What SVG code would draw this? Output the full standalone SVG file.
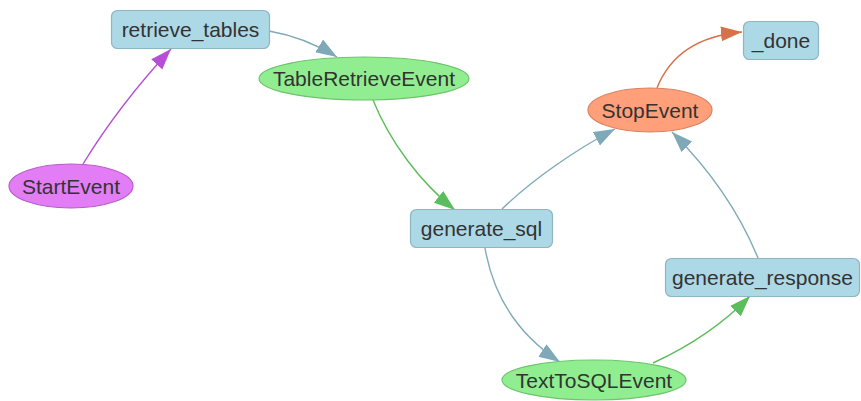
<svg xmlns="http://www.w3.org/2000/svg" width="861" height="401" viewBox="0 0 861 401">
  <style>
    .lbl { font-family: "Liberation Sans", Arial, sans-serif; font-size: 21px; fill: #333; text-anchor: middle; }
    .step { fill: #add8e6; stroke: #8db5c4; stroke-width: 1.2; }
    .evt { fill: #90ee90; stroke: #6cc46c; stroke-width: 1.2; }
    .start { fill: #e27df6; stroke: #b95ccc; stroke-width: 1.2; }
    .stop { fill: #ffa07a; stroke: #d98262; stroke-width: 1.2; }
    .edge { fill: none; stroke-width: 1.4; }
  </style>
  <defs>
    <marker id="ah-blue" markerUnits="userSpaceOnUse" markerWidth="24" markerHeight="18" refX="21" refY="7.5" orient="auto">
      <path d="M0,0 L21,7.5 L0,15 z" fill="#7fa9b9"/>
    </marker>
    <marker id="ah-green" markerUnits="userSpaceOnUse" markerWidth="24" markerHeight="18" refX="21" refY="7.5" orient="auto">
      <path d="M0,0 L21,7.5 L0,15 z" fill="#5cbd5c"/>
    </marker>
    <marker id="ah-magenta" markerUnits="userSpaceOnUse" markerWidth="24" markerHeight="18" refX="21" refY="7.5" orient="auto">
      <path d="M0,0 L21,7.5 L0,15 z" fill="#b64ed6"/>
    </marker>
    <marker id="ah-orange" markerUnits="userSpaceOnUse" markerWidth="24" markerHeight="18" refX="21" refY="7.5" orient="auto">
      <path d="M0,0 L21,7.5 L0,15 z" fill="#d6714a"/>
    </marker>
  </defs>

  <g id="edges">
    <path class="edge" stroke="#b64ed6" marker-end="url(#ah-magenta)" d="M83,164 C105,128 135,88 171,49"/>
    <path class="edge" stroke="#7fa9b9" marker-end="url(#ah-blue)" d="M269,31 C292,35 316,44 337,57"/>
    <path class="edge" stroke="#5cbd5c" marker-end="url(#ah-green)" d="M373,100 C390,142 420,182 455,210"/>
    <path class="edge" stroke="#7fa9b9" marker-end="url(#ah-blue)" d="M502,209 C532,180 575,150 615,129"/>
    <path class="edge" stroke="#7fa9b9" marker-end="url(#ah-blue)" d="M485,248 C494,300 520,336 560,362"/>
    <path class="edge" stroke="#5cbd5c" marker-end="url(#ah-green)" d="M653,363 C690,346 722,325 750,296"/>
    <path class="edge" stroke="#7fa9b9" marker-end="url(#ah-blue)" d="M758,258 C740,214 710,170 672,132"/>
    <path class="edge" stroke="#d6714a" marker-end="url(#ah-orange)" d="M657,88 C670,55 697,36 742,32"/>
  </g>

  <g id="retrieve_tables">
    <rect class="step" x="111.5" y="10.5" width="158" height="38" rx="6"/>
    <text class="lbl" x="190.5" y="36.5">retrieve_tables</text>
  </g>
  <g id="TableRetrieveEvent">
    <ellipse class="evt" cx="364" cy="78.5" rx="105" ry="21.5"/>
    <text class="lbl" x="364" y="86">TableRetrieveEvent</text>
  </g>
  <g id="StartEvent">
    <ellipse class="start" cx="71" cy="186" rx="62" ry="22"/>
    <text class="lbl" x="71" y="193.5">StartEvent</text>
  </g>
  <g id="StopEvent">
    <ellipse class="stop" cx="650" cy="110" rx="62" ry="22"/>
    <text class="lbl" x="650" y="117.5">StopEvent</text>
  </g>
  <g id="_done">
    <rect class="step" x="743.5" y="21.5" width="75" height="38" rx="6"/>
    <text class="lbl" x="781" y="47.5">_done</text>
  </g>
  <g id="generate_sql">
    <rect class="step" x="410.5" y="209.5" width="142" height="38" rx="6"/>
    <text class="lbl" x="481.5" y="235.5">generate_sql</text>
  </g>
  <g id="generate_response">
    <rect class="step" x="665.5" y="258.5" width="194" height="38" rx="6"/>
    <text class="lbl" x="762.5" y="284.5">generate_response</text>
  </g>
  <g id="TextToSQLEvent">
    <ellipse class="evt" cx="594" cy="380" rx="92" ry="20"/>
    <text class="lbl" x="594" y="387.5">TextToSQLEvent</text>
  </g>
</svg>
